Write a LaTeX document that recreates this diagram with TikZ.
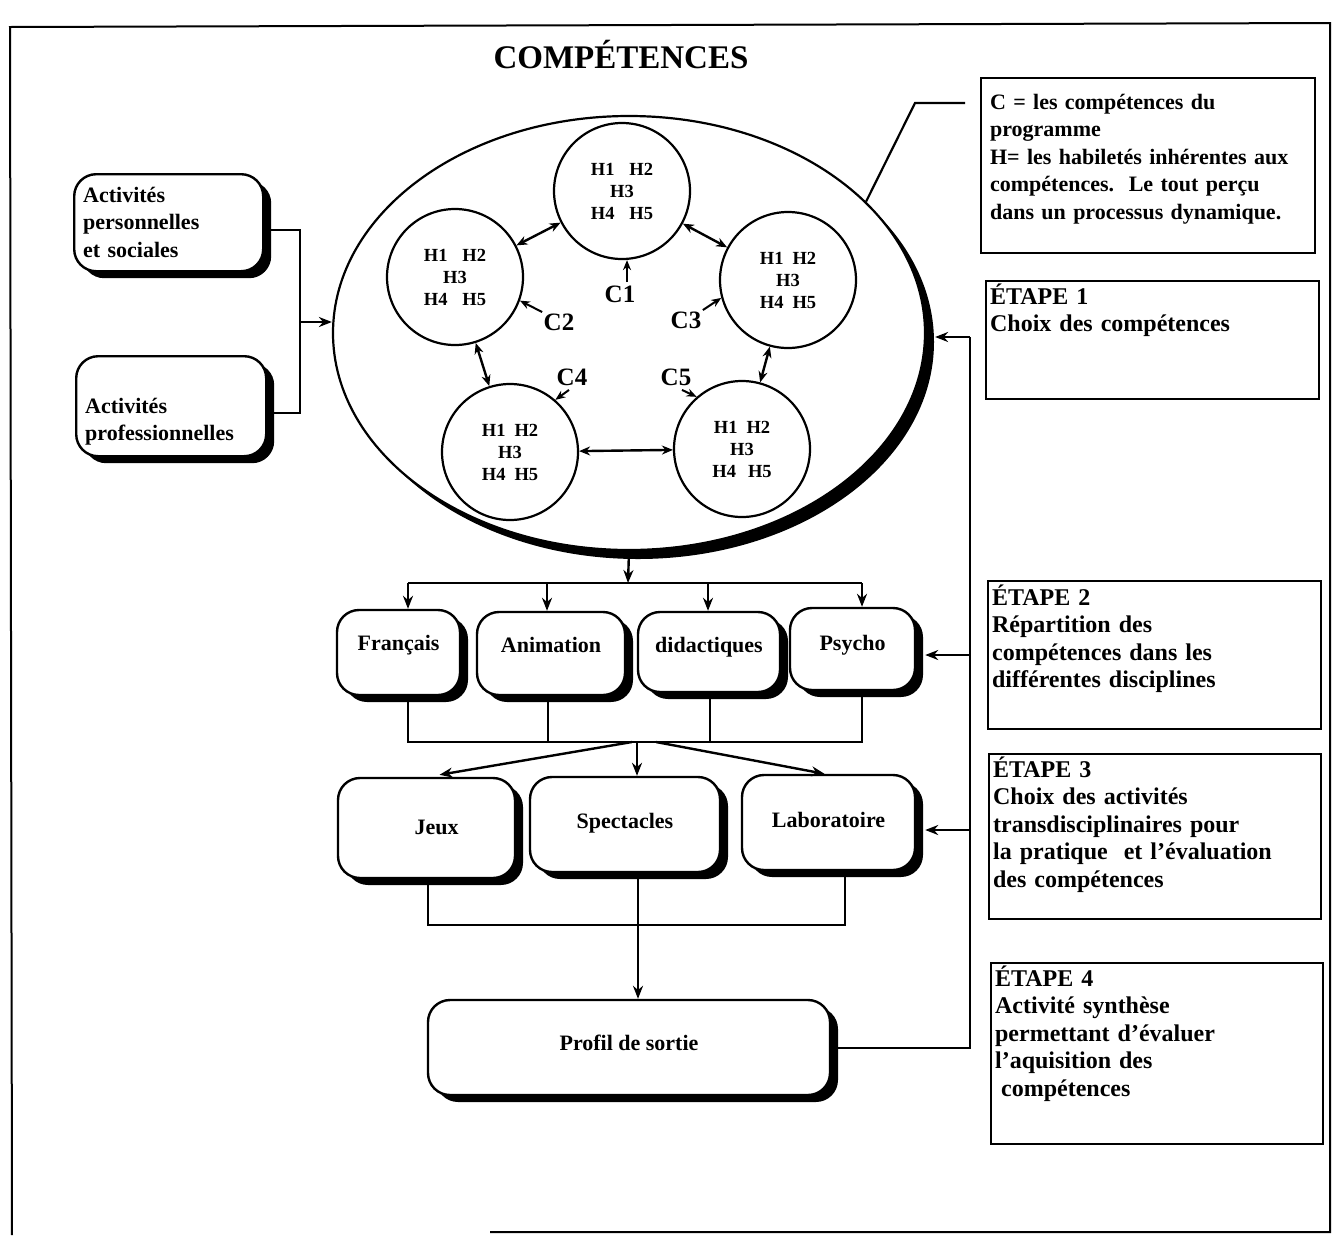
\documentclass[tikz,border=0pt]{standalone}
\usepackage{fontspec}
\setmainfont{Liberation Serif}
\usetikzlibrary{shadows,arrows.meta,calc,shapes.geometric}
\tikzset{
  arr/.style={line width=2.4pt,-{Stealth[length=13pt,width=10pt]}},
  darr/.style={line width=2.4pt,{Stealth[length=11pt,width=9pt]}-{Stealth[length=11pt,width=9pt]}},
  carr/.style={line width=2pt,-{Stealth[length=10pt,width=8pt]}},
  conn/.style={line width=2.4pt},
  rbox/.style={draw,line width=2.4pt,rounded corners=22pt,fill=white,inner sep=0pt,
    general shadow={fill=black,shadow xshift=8pt,shadow yshift=-7pt},
    font=\bfseries\fontsize{22}{27.5}\selectfont},
  circ/.style={draw,circle,line width=2.2pt,minimum size=136pt,inner sep=0pt,align=center,
    font=\bfseries\fontsize{18.5}{22}\selectfont},
  stepbox/.style={draw,line width=2.2pt,anchor=north west,inner xsep=4pt,inner ysep=0pt,align=left,
    font=\bfseries\fontsize{24}{27.5}\selectfont},
  clab/.style={font=\bfseries\fontsize{25}{25}\selectfont},
}
\begin{document}
\begin{tikzpicture}[x=1pt,y=-1pt]
\useasboundingbox (0,0) rectangle (1335,1235);
% outer frame
\draw[line width=2pt] (12,1235) -- (10,27) -- (1330,23) -- (1330,1232) -- (490,1232);
% title
\node[font=\bfseries\fontsize{33}{33}\selectfont] (T) at (621,55) {COMPÉTENCES};

% big ellipse with shadow
\fill (638,342) ellipse [x radius=296, y radius=217];
\node[draw,ellipse,line width=2.2pt,fill=white,minimum width=592pt,minimum height=434pt,inner sep=0pt] (E) at (629,333) {};

% competence circles
\node[circ] (c1) at (622,191) {H1\hspace{15pt}H2\\H3\\H4\hspace{15pt}H5};
\node[circ] (c2) at (455,277) {H1\hspace{15pt}H2\\H3\\H4\hspace{15pt}H5};
\node[circ] (c3) at (788,280) {H1\hspace{9pt}H2\\H3\\H4\hspace{9pt}H5};
\node[circ] (c4) at (510,452) {H1\hspace{9pt}H2\\H3\\H4\hspace{9pt}H5};
\node[circ] (c5) at (742,449) {H1\hspace{9pt}H2\\H3\\H4\hspace{12pt}H5};
\draw[darr] (c1) -- (c2);
\draw[darr] (c1) -- (c3);
\draw[darr] (c2) -- (c4);
\draw[darr] (c3) -- (c5);
\draw[darr] (c4) -- (c5);

% C labels
\node[clab] (C1) at (620,294) {C1};
\node[clab] (C2) at (559,322) {C2};
\node[clab] (C3) at (686,320) {C3};
\node[clab] (C4) at (572,377) {C4};
\node[clab] (C5) at (676,377) {C5};
\draw[carr] ($(C1.north)+(7,0)$) -- ($(c1.south)+(5,0)$);
\draw[carr] ($(C2.north west)+(2,2)$) -- (c2.-20);
\draw[carr] ($(C3.north east)+(-2,2)$) -- (c3.195);
\draw[carr] ($(C4.south)+(-3,1)$) -- (c4.49);
\draw[carr] ($(C5.south)+(6,1)$) -- (c5.131);

% legend box and its pointer line
\node[stepbox,inner xsep=9pt,text width=316pt,text height=31pt,text depth=144pt,
  font=\bfseries\fontsize{22}{27.5}\selectfont] (Cb) at (980,77)
  {C = les compétences du\\programme\\H= les habiletés inhérentes aux\\compétences.~~Le tout perçu\\dans un processus dynamique.};
\coordinate (lk) at (915,103);
\coordinate (le) at (965,103);
\draw[line width=2.2pt] (E.29) -- (lk) -- (le);

% left activity boxes
\node[rbox,anchor=north west,align=left,inner xsep=9pt,text width=171pt,text height=28pt,text depth=69pt] (B1) at (73,173)
  {Activités\\personnelles\\et sociales};
\node[rbox,anchor=north west,align=left,inner xsep=9pt,text width=172pt,text height=57pt,text depth=43pt] (B2) at (75,355)
  {Activités\\professionnelles};
\coordinate (j1) at (300,230);
\coordinate (j2) at (300,413);
\coordinate (ja) at (300,322);
\draw[conn] (B1.east |- j1) -- (j1) -- (j2) -- (B2.east |- j2);
\draw[arr] (ja) -- (E.west |- ja);

% disciplines
\node[rbox,minimum width=123pt,text height=40pt,text depth=45pt] (fr) at (398.5,652.5) {Français};
\node[rbox,minimum width=148pt,text height=40pt,text depth=43pt] (an) at (551,653.5) {Animation};
\node[rbox,minimum width=142pt,text height=40pt,text depth=40pt] (di) at (709,652) {didactiques};
\node[rbox,minimum width=125pt,text height=42pt,text depth=40pt] (ps) at (852.5,649) {Psycho};

\coordinate (h0) at (628,583);
\coordinate (hl) at (408,583);
\coordinate (h2) at (547,583);
\coordinate (h3) at (708,583);
\coordinate (hr) at (862,583);
\draw[arr] (E.south) -- (h0);
\draw[conn] (hl) -- (hr);
\draw[arr] (hl) -- (hl |- fr.north);
\draw[arr] (h2) -- (h2 |- an.north);
\draw[arr] (h3) -- (h3 |- di.north);
\draw[arr] (hr) -- (hr |- ps.north);

% activities
\node[rbox,minimum width=177pt,text height=56pt,text depth=44pt] (je) at (426.5,828) {\hspace*{20pt}Jeux};
\node[rbox,minimum width=190pt,text height=51pt,text depth=44pt] (sp) at (625,824.5) {Spectacles};
\node[rbox,minimum width=173pt,text height=52pt,text depth=43pt] (la) at (828.5,822.5) {Laboratoire};

\coordinate (g1) at (408,742);
\coordinate (g2) at (548,742);
\coordinate (g3) at (710,742);
\coordinate (g4) at (862,742);
\draw[conn] (g1 |- fr.south) -- (g1) -- (g4) -- (g4 |- ps.south);
\draw[conn] (g2 |- an.south) -- (g2);
\draw[conn] (g3 |- di.south) -- (g3);
\coordinate (s1) at (632,742);
\coordinate (s3) at (637,742);
\coordinate (s2) at (656,742);
\draw[arr] (s1) -- ($(je.north)+(13,-2)$);
\draw[arr] (s3) -- (s3 |- sp.north);
\draw[arr] (s2) -- ($(la.north)+(-4,0)$);

% profile
\node[rbox,minimum width=402pt,text height=50pt,text depth=45pt] (pr) at (629,1047.5) {Profil de sortie};
\coordinate (k1) at (428,925);
\coordinate (k2) at (638,925);
\coordinate (k3) at (845,925);
\draw[conn] (k1 |- je.south) -- (k1) -- (k3) -- (k3 |- la.south);
\draw[conn] (k2 |- sp.south) -- (k2);
\draw[arr] (k2) -- (k2 |- pr.north);

% feedback line on the right
\coordinate (v1) at (970,337);
\coordinate (v2) at (970,655);
\coordinate (v3) at (970,830);
\coordinate (v4) at (970,1048);
\draw[conn] (pr.east |- v4) -- (v4) -- (v1);
\draw[arr] (v1) -- ($(E.east |- v1)+(9,0)$);
\draw[arr] (v2) -- ($(ps.east |- v2)+(9,0)$);
\draw[arr] (v3) -- ($(la.east |- v3)+(9,0)$);

% steps
\node[stepbox,text width=325pt,text height=23pt,text depth=95pt] (S1) at (985,280)
  {ÉTAPE 1\\Choix des compétences};
\node[stepbox,text width=325pt,text height=24pt,text depth=124pt] (S2) at (987,580)
  {ÉTAPE 2\\Répartition des\\compétences dans les\\différentes disciplines};
\node[stepbox,text width=324pt,text height=23pt,text depth=142pt] (S3) at (988,753)
  {ÉTAPE 3\\Choix des activités\\transdisciplinaires pour\\la pratique~~et l’évaluation\\des compétences};
\node[stepbox,text width=324pt,text height=23pt,text depth=158pt] (S4) at (990,962)
  {ÉTAPE 4\\Activité synthèse\\permettant d’évaluer\\l’aquisition des\\\hspace*{6pt}compétences};
\end{tikzpicture}
\end{document}
